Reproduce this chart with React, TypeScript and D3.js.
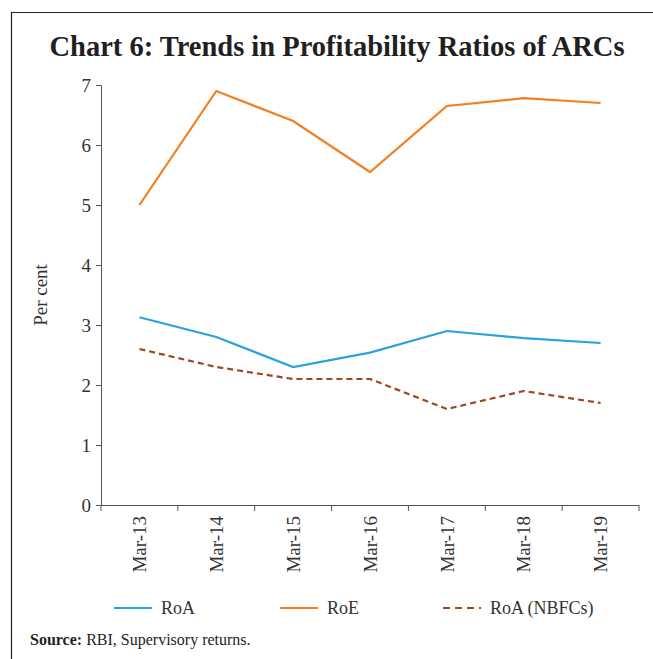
import React, { useEffect, useRef } from "react";
import * as d3 from "d3";

const categories = ["Mar-13", "Mar-14", "Mar-15", "Mar-16", "Mar-17", "Mar-18", "Mar-19"];
const roa = [3.13, 2.8, 2.3, 2.54, 2.9, 2.78, 2.7];
const roe = [5.0, 6.9, 6.4, 5.55, 6.65, 6.78, 6.7];
const roaNbfc = [2.6, 2.3, 2.1, 2.1, 1.6, 1.9, 1.7];
const yTicks = [0, 1, 2, 3, 4, 5, 6, 7];

const series = [
  { name: "RoA", values: roa, color: "#29a3dd", dash: null },
  { name: "RoE", values: roe, color: "#f37f23", dash: null },
  { name: "RoA (NBFCs)", values: roaNbfc, color: "#a0471c", dash: "6,4" },
];

const W = 653;
const H = 659;
const FONT = "'Liberation Serif', 'DejaVu Serif', serif";

const App = () => {
  const ref = useRef<SVGSVGElement>(null);

  useEffect(() => {
    const svg = d3.select(ref.current);
    svg.selectAll("*").remove();

    const margin = { top: 85, left: 101, right: 14, bottom: 154 };
    const innerW = W - margin.left - margin.right;
    const innerH = H - margin.top - margin.bottom;

    // frame: only its top and left edges fall inside the picture
    svg.append("path")
      .attr("d", `M11.5,${H} V12.5 H${W}`)
      .attr("fill", "none")
      .attr("stroke", "#222")
      .attr("stroke-width", 1.2);

    svg.append("text")
      .attr("x", 337)
      .attr("y", 56)
      .attr("text-anchor", "middle")
      .attr("font-family", FONT)
      .attr("font-weight", "bold")
      .attr("font-size", 28.5)
      .attr("fill", "#231f20")
      .text("Chart 6: Trends in Profitability Ratios of ARCs");

    const g = svg.append("g").attr("transform", `translate(${margin.left},${margin.top})`);

    const x = d3.scaleBand().domain(categories).range([0, innerW]);
    const y = d3.scaleLinear().domain([0, 7]).range([innerH, 0]);

    // y axis
    const yAxis = g.append("g").call(
      d3.axisLeft(y).tickValues(yTicks).tickSize(5).tickPadding(5).tickFormat(d3.format("d"))
    );
    yAxis.select(".domain").attr("stroke", "#555").attr("d", `M-5,0.5H0.5V${innerH}`);
    yAxis.selectAll(".tick line").attr("stroke", "#555");
    yAxis.selectAll("text")
      .attr("font-family", FONT)
      .attr("font-size", 19)
      .attr("fill", "#333");

    // x axis
    const xAxis = g.append("g")
      .attr("transform", `translate(0,${innerH})`)
      .call(d3.axisBottom(x).tickSize(0).tickPadding(0));
    xAxis.select(".domain").attr("stroke", "#555").attr("d", `M0,0.5H${innerW}`);
    xAxis.selectAll(".tick text")
      .attr("font-family", FONT)
      .attr("font-size", 19)
      .attr("fill", "#333")
      .attr("transform", "rotate(-90)")
      .attr("text-anchor", "end")
      .attr("x", -11)
      .attr("y", 0)
      .attr("dy", "0.35em");
    const bounds = categories.map((c) => x(c)!).concat([innerW]);
    g.append("g")
      .selectAll("line")
      .data(bounds)
      .join("line")
      .attr("x1", (d) => d)
      .attr("x2", (d) => d)
      .attr("y1", innerH)
      .attr("y2", innerH + 6)
      .attr("stroke", "#555");

    g.append("text")
      .attr("transform", `translate(${47 - margin.left},${295 - margin.top}) rotate(-90)`)
      .attr("text-anchor", "middle")
      .attr("font-family", FONT)
      .attr("font-size", 19)
      .attr("fill", "#333")
      .text("Per cent");

    const line = d3.line<number>()
      .x((_, i) => x(categories[i])! + x.bandwidth() / 2)
      .y((d) => y(d));

    series.forEach((s) => {
      g.append("path")
        .datum(s.values)
        .attr("fill", "none")
        .attr("stroke", s.color)
        .attr("stroke-width", 2.2)
        .attr("stroke-dasharray", s.dash)
        .attr("d", line);
    });

    // legend
    const legendX = [114, 280, 443];
    const legend = svg.append("g");
    series.forEach((s, i) => {
      legend.append("line")
        .attr("x1", legendX[i])
        .attr("x2", legendX[i] + 38)
        .attr("y1", 608)
        .attr("y2", 608)
        .attr("stroke", s.color)
        .attr("stroke-width", 2.2)
        .attr("stroke-dasharray", s.dash ? "7,5" : null);
      legend.append("text")
        .attr("x", legendX[i] + 47)
        .attr("y", 614)
        .attr("font-family", FONT)
        .attr("font-size", 18)
        .attr("fill", "#333")
        .text(s.name);
    });

    const src = svg.append("text")
      .attr("x", 30)
      .attr("y", 645)
      .attr("font-family", FONT)
      .attr("font-size", 16)
      .attr("fill", "#231f20");
    src.append("tspan").attr("font-weight", "bold").text("Source:");
    src.append("tspan").text(" RBI, Supervisory returns.");
  }, []);

  return (
    <svg
      ref={ref}
      width={W}
      height={H}
      style={{ position: "absolute", left: 0, top: 0, background: "#fff" }}
    />
  );
};

export default App;
